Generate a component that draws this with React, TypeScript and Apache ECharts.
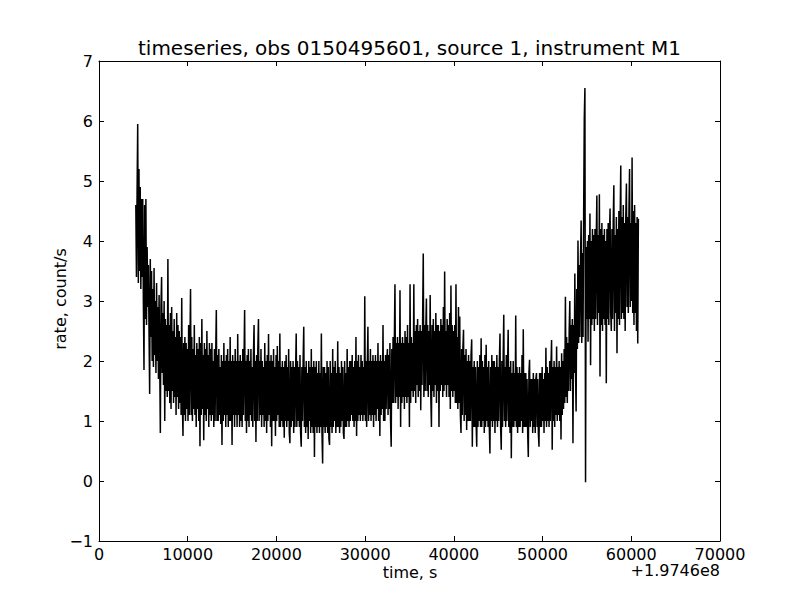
import React, { useEffect, useRef } from "react";
import * as echarts from "echarts";

// time grid of the light curve (seconds after +1.9746e8)
const timeStart = 4150;
const binSize = 70.9;

// count rate per bin (count/s)
const rates: number[] = [
  4.6, 3.4, 4.8, 5.95, 3.3, 5.2, 3.5, 4.9, 3.2, 4.7,
  3.4, 4.7, 3.0,
  1.85, 4.6, 2.7, 4.7, 2.6, 3.9, 2.9,
  3.6, 2.5, 1.45, 3.7, 2.4, 3.5,
  2.0, 3.2, 1.9, 3.55,
  2.1, 3.0, 1.8, 3.3, 2.0, 2.9, 1.7, 3.1, 2.0, 0.8,
  2.9, 3.4, 1.8, 2.8, 1.6, 3.0,
  1.0, 2.7, 1.5, 2.6,
  1.4, 3.7, 1.5, 2.6, 1.3, 2.8, 1.2, 2.9, 1.5, 2.5,
  1.3, 2.7, 1.4, 2.4, 1.1, 2.8, 1.4, 2.6, 1.2, 2.5,
  1.3,
  2.4, 1.1, 3.05, 1.3, 0.75, 2.3, 1.1, 2.4, 1.0,
  2.3, 1.2, 2.2, 1.0, 2.6, 1.1, 2.2, 3.2, 1.1, 2.4,
  1.0, 2.2, 1.2, 2.6, 1.1, 2.1, 0.9, 2.3, 1.2, 2.2,
  1.0, 2.4, 0.58, 2.3, 1.1, 2.7, 1.2, 2.1, 0.68, 2.3,
  1.1, 2.2, 1.0, 2.5, 1.2, 2.1, 0.9, 2.3, 1.1, 2.2,
  1.0,
  2.3, 1.1, 2.0, 0.9, 2.2, 1.0, 2.1, 2.85, 1.0,
  2.1, 1.0, 2.2, 1.1, 1.9, 0.95, 2.1, 0.6, 2.0, 1.0,
  2.3, 1.1, 2.0, 0.9, 2.1, 1.1, 2.2, 0.9, 2.0, 1.0,
  2.4, 1.0, 2.0, 0.6, 2.1, 1.1, 2.0, 0.9, 2.2, 1.1,
  2.0, 0.9, 2.45, 1.1, 2.0, 0.9, 2.1, 1.0, 2.0, 0.9,
  2.2, 1.1, 2.0, 2.85, 1.0, 2.0, 0.8, 2.1, 1.0, 2.2,
  0.9, 2.0, 1.1, 2.2, 1.0, 1.9, 0.9, 2.1, 2.6, 1.0,
  2.0, 0.65, 2.1, 1.0, 2.2, 2.7, 1.0, 2.0, 1.1, 2.2,
  0.9, 2.0, 1.1, 1.9, 0.9, 2.3, 1.0, 2.0, 0.8, 2.1,
  1.0, 2.45, 1.1, 2.0, 0.9, 2.1, 0.58, 2.0, 1.0, 2.2,
  1.0, 1.9, 0.75, 2.1, 1.0, 2.25, 1.1, 2.0, 0.9, 2.46,
  0.9,
  1.9, 1.0, 2.0, 0.9, 1.9, 0.72, 2.0, 1.0, 2.1,
  0.9, 1.9, 1.0, 2.2, 0.8, 0.63, 2.0, 0.9, 1.9, 1.0,
  2.0, 0.8, 1.9, 0.9, 1.8, 2.46, 0.9, 2.0, 1.0, 1.9,
  0.9, 2.1, 0.8, 0.57, 1.9, 1.0, 2.0, 2.57, 0.9, 1.9,
  0.8, 2.0, 0.9, 1.8, 0.7, 2.0, 1.0, 1.9, 0.8, 2.2,
  0.9, 1.9, 0.8, 2.0, 0.4, 1.9, 0.9, 2.0, 0.8, 1.8,
  0.9, 2.0, 0.8, 1.8, 0.9, 2.46, 0.8, 0.29, 1.9, 0.9,
  1.9, 0.8, 1.8, 0.9, 2.0, 0.8, 1.9, 0.7, 0.6, 2.0,
  0.9, 1.8, 0.8, 2.2, 0.9, 1.9, 1.0, 2.0, 0.8, 1.8,
  0.9, 2.33, 0.9, 1.9, 0.8, 1.8, 0.9, 2.0, 1.0, 1.9,
  0.8, 0.7, 2.0, 0.9, 1.8, 0.9, 2.2, 1.0, 1.9, 0.9,
  2.0,
  1.0, 2.0, 1.1, 2.1, 1.0, 1.9, 0.9, 2.0, 1.0,
  2.4, 0.75, 2.0, 1.0, 2.1, 1.1, 1.9, 1.0, 2.1, 1.1,
  2.0, 1.0, 1.9, 1.1, 3.08, 1.0, 2.0, 0.9, 1.9, 2.57,
  1.0, 2.0, 1.1, 2.2, 1.0, 2.0, 1.1, 2.1, 0.9, 2.0,
  1.1, 2.1, 1.0, 2.0, 1.2, 2.3, 1.0, 2.0, 0.75, 2.1,
  1.1, 2.0, 1.2, 2.6, 1.0, 2.0, 1.0, 2.1, 1.2, 2.0,
  2.2, 1.1, 2.1, 1.2, 2.3, 1.0,
  0.57, 2.2, 1.3, 2.4,
  1.3, 2.3, 3.28, 1.3, 2.3, 1.4, 2.4, 1.2, 2.3, 1.4,
  3.18, 0.9, 2.3, 1.3, 2.4, 1.4, 2.3, 1.2, 2.5, 1.4,
  2.4, 1.3, 2.6, 1.4, 2.3, 0.9, 3.28, 1.3, 2.4, 1.5,
  2.3,
  1.4, 3.28, 1.5, 2.5, 1.3, 2.6, 1.6, 2.7, 1.4,
  2.5, 1.5, 2.6, 1.18, 2.5, 1.6, 2.7, 3.79, 1.4, 2.6,
  1.5, 2.5, 3.04, 1.5, 2.6, 1.4, 2.5, 1.6, 3.1, 1.4,
  0.9, 2.6, 1.5, 2.7, 1.4, 2.5, 1.6, 2.8, 1.3, 2.6,
  1.5, 2.6, 0.9, 2.5, 1.5, 2.7, 1.6, 2.6, 1.4, 2.9,
  1.5, 3.49, 1.6, 2.5, 1.4, 2.7, 1.6, 2.6, 1.4, 2.8,
  1.2, 3.26, 1.5, 2.6, 1.4, 2.5,
  1.5, 2.6, 1.3, 3.28,
  1.3, 2.4, 1.2, 2.9, 1.3, 2.74, 1.1, 0.8, 2.2, 1.1,
  2.2, 2.52, 1.0, 2.1, 1.1, 2.2, 0.85, 2.0, 1.0, 2.1,
  1.0,
  2.0, 1.0, 2.1, 2.36, 0.57, 1.9, 0.9, 2.0, 0.9,
  1.9, 1.0, 0.57, 2.0, 0.9, 1.9, 1.0, 2.1, 0.9, 2.38,
  0.9, 2.0, 1.0, 1.9, 0.8, 2.1, 0.9, 2.27, 1.0, 1.9,
  0.9, 2.0, 0.9, 0.46, 1.9, 1.0, 2.1, 0.9, 2.0, 1.0,
  2.0, 0.8, 1.9, 1.0, 2.1, 0.9, 1.9, 1.0, 2.0, 2.46,
  0.9, 0.52, 2.0, 0.9, 2.0, 2.77, 1.0, 1.9, 0.9, 2.1,
  1.0, 1.9, 2.52, 0.9, 1.9, 0.8, 2.0, 0.38, 1.8, 0.9,
  2.0,
  0.9, 1.8, 1.0, 2.76, 0.9, 1.9, 0.8, 1.8, 0.9,
  1.9, 0.9, 1.8, 1.0, 2.1, 0.8, 2.53, 0.9, 1.8, 0.9,
  1.8, 0.9, 1.7, 0.8, 0.4, 1.8, 2.02, 0.9, 1.7, 1.0,
  1.7, 0.8, 1.8, 0.9, 1.7, 0.8, 1.7, 1.8, 0.9, 1.7,
  0.8, 0.57, 1.8, 0.9, 1.8, 0.9, 1.9, 1.0, 1.7, 0.8,
  1.8,
  1.0, 2.22, 0.9, 1.9, 1.0, 1.8, 0.9, 2.0, 1.0,
  1.9, 2.35, 0.52, 1.9, 1.0, 2.0, 0.9, 1.9, 1.1, 2.24,
  1.0, 1.9, 1.1, 2.0, 1.0, 1.9, 0.69, 2.13, 1.1, 2.0,
  1.2,
  2.2, 1.3, 3.07, 1.4, 2.4, 1.3, 2.3, 1.5, 2.5,
  3.0, 1.5, 2.6, 1.7, 2.7, 0.63, 2.6, 1.8, 3.46, 1.9,
  1.16,
  3.2, 2.2, 4.01, 2.3, 3.6, 2.4, 3.7, 4.34, 2.3,
  3.8, 2.4, 4.45,
  6.04, 6.55, -0.02,
  3.9, 2.7, 4.0, 2.32,
  4.1, 2.7, 4.46, 1.93, 4.0, 2.6, 4.2, 2.7, 4.1, 2.5,
  4.2, 2.7, 4.0, 4.76, 2.6, 4.1, 2.8, 4.78, 1.74, 4.2,
  2.6,
  4.3, 2.5, 4.1, 2.7, 4.2, 2.6, 4.0, 1.63, 4.2,
  2.7, 4.3, 2.6, 4.1, 4.54, 2.8, 2.5, 4.2, 2.7, 4.3,
  4.93, 2.5, 4.1, 2.8, 4.4, 2.13, 4.2, 2.7, 4.5, 2.6,
  4.3, 5.26, 2.7, 4.4, 2.8, 4.6, 2.7, 4.3, 2.5, 4.4,
  4.96, 2.9, 4.4, 2.8, 4.5, 5.2, 2.9, 4.3, 3.0, 5.39,
  2.8, 4.5, 2.6, 4.6, 2.8, 4.3, 2.5, 4.4, 2.29, 4.37,
];

const xTicks = { min: 0, max: 70000, interval: 10000 };
const yTicks = { min: -1, max: 7, interval: 1 };

const titleText = "timeseries, obs 0150495601, source 1, instrument M1";
const xLabel = "time, s";
const yLabel = "rate, count/s";
const offsetText = "+1.9746e8";

const FONT = "DejaVu Sans";

export default function App() {
  const ref = useRef<HTMLDivElement>(null);
  useEffect(() => {
    if (!ref.current) return;
    const chart = echarts.init(ref.current, null, { renderer: "svg" });
    const data = rates.map((v, i) => [timeStart + i * binSize, v]);
    const axisLine = { show: true, onZero: false, lineStyle: { color: "#000", width: 1 } };
    const tick = { show: true, inside: true, length: 5, lineStyle: { color: "#000", width: 1 } };
    const label = { color: "#000", fontFamily: FONT, fontSize: 16 };
    const minus = (v: number) => (v < 0 ? "\u2212" + Math.abs(v) : String(v));
    chart.setOption({
      animation: false,
      backgroundColor: "#fff",
      grid: { left: 99, right: 82, top: 61, bottom: 61, containLabel: false },
      xAxis: [
        {
          type: "value", ...xTicks, position: "bottom",
          axisLine, axisTick: tick, splitLine: { show: false },
          axisLabel: { ...label, margin: 5, formatter: (v: number) => String(v) },
        },
        {
          type: "value", ...xTicks, position: "top",
          axisLine, axisTick: tick, splitLine: { show: false },
          axisLabel: { show: false },
        },
      ],
      yAxis: [
        {
          type: "value", ...yTicks, position: "left",
          axisLine, axisTick: tick, splitLine: { show: false },
          axisLabel: { ...label, margin: 6, formatter: minus },
        },
        {
          type: "value", ...yTicks, position: "right",
          axisLine, axisTick: tick, splitLine: { show: false },
          axisLabel: { show: false },
        },
      ],
      series: [
        {
          type: "line",
          data,
          showSymbol: false,
          symbol: "none",
          lineStyle: { color: "#000", width: 1.5, join: "miter", miterLimit: 2 },
          itemStyle: { color: "#000" },
          clip: true,
        },
      ],
      graphic: [
        {
          type: "text", x: 409.5, y: 48,
          style: { text: titleText, x: 0, y: 0, align: "center", verticalAlign: "middle", fill: "#000", font: `20px '${FONT}'` },
        },
        {
          type: "text", x: 410, y: 572,
          style: { text: xLabel, x: 0, y: 0, align: "center", verticalAlign: "middle", fill: "#000", font: `16px '${FONT}'` },
        },
        {
          type: "text", x: 720, y: 570,
          style: { text: offsetText, x: 0, y: 0, align: "right", verticalAlign: "middle", fill: "#000", font: `16px '${FONT}'` },
        },
        {
          type: "text", x: 60, y: 299, rotation: Math.PI / 2,
          style: { text: yLabel, x: 0, y: 0, align: "center", verticalAlign: "middle", fill: "#000", font: `16px '${FONT}'` },
        },
      ],
    });
    return () => chart.dispose();
  }, []);
  return <div ref={ref} style={{ position: "fixed", left: 0, top: 0, width: 802, height: 602, background: "#fff" }} />;
}
